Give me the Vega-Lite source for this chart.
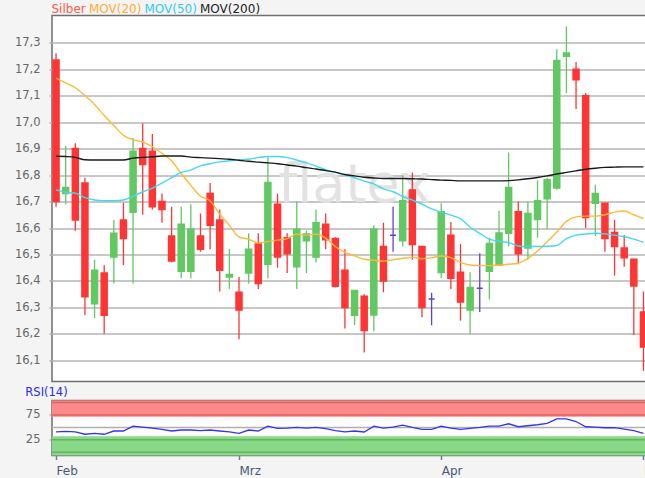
{
  "$schema": "https://vega.github.io/schema/vega-lite/v6.json",
  "background": "#f4f4f4",
  "padding": {"left": 13, "top": 2.5, "right": -15, "bottom": 0},
  "spacing": 3,
  "config": {
    "font": "DejaVu Sans",
    "view": {"fill": "white", "stroke": "#6e6e6e", "strokeWidth": 1.5},
    "axis": {"labelFont": "DejaVu Sans", "titleFont": "DejaVu Sans", "labelOverlap": false}
  },
  "datasets": {
    "prices": [
      {"date": "2018-02-01", "open": 17.235, "high": 17.26, "low": 16.68, "close": 16.70, "MOV(20)": 17.166, "MOV(50)": 16.744, "MOV(200)": 16.871, "rsi": 40.8},
      {"date": "2018-02-02", "open": 16.73, "high": 16.91, "low": 16.69, "close": 16.753, "MOV(20)": 17.148, "MOV(50)": 16.735, "MOV(200)": 16.87, "rsi": 42},
      {"date": "2018-02-05", "open": 16.90, "high": 16.92, "low": 16.59, "close": 16.63, "MOV(20)": 17.13, "MOV(50)": 16.732, "MOV(200)": 16.867, "rsi": 41},
      {"date": "2018-02-06", "open": 16.77, "high": 16.79, "low": 16.27, "close": 16.34, "MOV(20)": 17.10, "MOV(50)": 16.715, "MOV(200)": 16.858, "rsi": 36.2},
      {"date": "2018-02-07", "open": 16.314, "high": 16.48, "low": 16.26, "close": 16.44, "MOV(20)": 17.067, "MOV(50)": 16.706, "MOV(200)": 16.857, "rsi": 38.1},
      {"date": "2018-02-08", "open": 16.43, "high": 16.46, "low": 16.20, "close": 16.27, "MOV(20)": 17.025, "MOV(50)": 16.703, "MOV(200)": 16.857, "rsi": 36.2},
      {"date": "2018-02-09", "open": 16.49, "high": 16.63, "low": 16.39, "close": 16.58, "MOV(20)": 16.987, "MOV(50)": 16.703, "MOV(200)": 16.857, "rsi": 42.7},
      {"date": "2018-02-12", "open": 16.63, "high": 16.695, "low": 16.46, "close": 16.56, "MOV(20)": 16.95, "MOV(50)": 16.706, "MOV(200)": 16.857, "rsi": 42.7},
      {"date": "2018-02-13", "open": 16.66, "high": 16.94, "low": 16.39, "close": 16.89, "MOV(20)": 16.933, "MOV(50)": 16.72, "MOV(200)": 16.864, "rsi": 52.6},
      {"date": "2018-02-14", "open": 16.90, "high": 16.995, "low": 16.65, "close": 16.84, "MOV(20)": 16.925, "MOV(50)": 16.737, "MOV(200)": 16.867, "rsi": 50.6},
      {"date": "2018-02-15", "open": 16.89, "high": 16.955, "low": 16.67, "close": 16.68, "MOV(20)": 16.907, "MOV(50)": 16.751, "MOV(200)": 16.869, "rsi": 48.6},
      {"date": "2018-02-16", "open": 16.70, "high": 16.73, "low": 16.62, "close": 16.67, "MOV(20)": 16.882, "MOV(50)": 16.77, "MOV(200)": 16.872, "rsi": 46},
      {"date": "2018-02-20", "open": 16.57, "high": 16.68, "low": 16.47, "close": 16.475, "MOV(20)": 16.854, "MOV(50)": 16.79, "MOV(200)": 16.872, "rsi": 42.7},
      {"date": "2018-02-21", "open": 16.437, "high": 16.68, "low": 16.41, "close": 16.614, "MOV(20)": 16.806, "MOV(50)": 16.81, "MOV(200)": 16.872, "rsi": 44.7},
      {"date": "2018-02-22", "open": 16.437, "high": 16.69, "low": 16.41, "close": 16.595, "MOV(20)": 16.761, "MOV(50)": 16.819, "MOV(200)": 16.868, "rsi": 44.7},
      {"date": "2018-02-23", "open": 16.57, "high": 16.655, "low": 16.51, "close": 16.52, "MOV(20)": 16.72, "MOV(50)": 16.835, "MOV(200)": 16.866, "rsi": 43.4},
      {"date": "2018-02-26", "open": 16.73, "high": 16.77, "low": 16.52, "close": 16.61, "MOV(20)": 16.703, "MOV(50)": 16.843, "MOV(200)": 16.864, "rsi": 44.7},
      {"date": "2018-02-27", "open": 16.63, "high": 16.67, "low": 16.36, "close": 16.44, "MOV(20)": 16.652, "MOV(50)": 16.85, "MOV(200)": 16.862, "rsi": 42.7},
      {"date": "2018-02-28", "open": 16.415, "high": 16.52, "low": 16.37, "close": 16.424, "MOV(20)": 16.61, "MOV(50)": 16.854, "MOV(200)": 16.86, "rsi": 40.8},
      {"date": "2018-03-01", "open": 16.357, "high": 16.415, "low": 16.18, "close": 16.29, "MOV(20)": 16.566, "MOV(50)": 16.857, "MOV(200)": 16.856, "rsi": 38.1},
      {"date": "2018-03-02", "open": 16.43, "high": 16.58, "low": 16.39, "close": 16.52, "MOV(20)": 16.558, "MOV(50)": 16.86, "MOV(200)": 16.852, "rsi": 44.7},
      {"date": "2018-03-05", "open": 16.54, "high": 16.58, "low": 16.37, "close": 16.39, "MOV(20)": 16.543, "MOV(50)": 16.866, "MOV(200)": 16.849, "rsi": 42.7},
      {"date": "2018-03-06", "open": 16.463, "high": 16.867, "low": 16.41, "close": 16.772, "MOV(20)": 16.549, "MOV(50)": 16.87, "MOV(200)": 16.846, "rsi": 52.6},
      {"date": "2018-03-07", "open": 16.69, "high": 16.73, "low": 16.45, "close": 16.49, "MOV(20)": 16.554, "MOV(50)": 16.87, "MOV(200)": 16.843, "rsi": 48},
      {"date": "2018-03-08", "open": 16.563, "high": 16.58, "low": 16.43, "close": 16.503, "MOV(20)": 16.56, "MOV(50)": 16.866, "MOV(200)": 16.838, "rsi": 48.6},
      {"date": "2018-03-09", "open": 16.454, "high": 16.70, "low": 16.37, "close": 16.595, "MOV(20)": 16.577, "MOV(50)": 16.857, "MOV(200)": 16.834, "rsi": 50},
      {"date": "2018-03-12", "open": 16.552, "high": 16.59, "low": 16.43, "close": 16.577, "MOV(20)": 16.573, "MOV(50)": 16.846, "MOV(200)": 16.828, "rsi": 48.6},
      {"date": "2018-03-13", "open": 16.49, "high": 16.67, "low": 16.47, "close": 16.62, "MOV(20)": 16.577, "MOV(50)": 16.834, "MOV(200)": 16.823, "rsi": 50},
      {"date": "2018-03-14", "open": 16.614, "high": 16.655, "low": 16.52, "close": 16.556, "MOV(20)": 16.562, "MOV(50)": 16.82, "MOV(200)": 16.817, "rsi": 47.3},
      {"date": "2018-03-15", "open": 16.56, "high": 16.565, "low": 16.375, "close": 16.38, "MOV(20)": 16.53, "MOV(50)": 16.81, "MOV(200)": 16.811, "rsi": 43.4},
      {"date": "2018-03-16", "open": 16.44, "high": 16.52, "low": 16.22, "close": 16.30, "MOV(20)": 16.508, "MOV(50)": 16.80, "MOV(200)": 16.802, "rsi": 40.8},
      {"date": "2018-03-19", "open": 16.27, "high": 16.365, "low": 16.233, "close": 16.364, "MOV(20)": 16.495, "MOV(50)": 16.79, "MOV(200)": 16.797, "rsi": 42.7},
      {"date": "2018-03-20", "open": 16.342, "high": 16.35, "low": 16.13, "close": 16.213, "MOV(20)": 16.482, "MOV(50)": 16.777, "MOV(200)": 16.792, "rsi": 40.8},
      {"date": "2018-03-21", "open": 16.271, "high": 16.61, "low": 16.21, "close": 16.595, "MOV(20)": 16.478, "MOV(50)": 16.767, "MOV(200)": 16.789, "rsi": 52.6},
      {"date": "2018-03-22", "open": 16.53, "high": 16.62, "low": 16.357, "close": 16.40, "MOV(20)": 16.475, "MOV(50)": 16.748, "MOV(200)": 16.787, "rsi": 48.6},
      {"date": "2018-03-23", "open": 16.573, "high": 16.68, "low": 16.51, "close": 16.573, "MOV(20)": 16.48, "MOV(50)": 16.737, "MOV(200)": 16.787, "rsi": 50.6},
      {"date": "2018-03-26", "open": 16.552, "high": 16.80, "low": 16.53, "close": 16.703, "MOV(20)": 16.485, "MOV(50)": 16.72, "MOV(200)": 16.787, "rsi": 54.6},
      {"date": "2018-03-27", "open": 16.744, "high": 16.81, "low": 16.48, "close": 16.538, "MOV(20)": 16.489, "MOV(50)": 16.705, "MOV(200)": 16.786, "rsi": 50},
      {"date": "2018-03-28", "open": 16.53, "high": 16.53, "low": 16.263, "close": 16.30, "MOV(20)": 16.484, "MOV(50)": 16.69, "MOV(200)": 16.785, "rsi": 46},
      {"date": "2018-03-29", "open": 16.332, "high": 16.355, "low": 16.232, "close": 16.332, "MOV(20)": 16.487, "MOV(50)": 16.672, "MOV(200)": 16.783, "rsi": 46},
      {"date": "2018-04-02", "open": 16.432, "high": 16.694, "low": 16.41, "close": 16.661, "MOV(20)": 16.494, "MOV(50)": 16.66, "MOV(200)": 16.781, "rsi": 52.6},
      {"date": "2018-04-03", "open": 16.573, "high": 16.623, "low": 16.37, "close": 16.41, "MOV(20)": 16.488, "MOV(50)": 16.649, "MOV(200)": 16.78, "rsi": 48.6},
      {"date": "2018-04-04", "open": 16.433, "high": 16.54, "low": 16.25, "close": 16.32, "MOV(20)": 16.47, "MOV(50)": 16.635, "MOV(200)": 16.778, "rsi": 46},
      {"date": "2018-04-05", "open": 16.29, "high": 16.433, "low": 16.20, "close": 16.375, "MOV(20)": 16.46, "MOV(50)": 16.603, "MOV(200)": 16.778, "rsi": 48},
      {"date": "2018-04-06", "open": 16.372, "high": 16.505, "low": 16.283, "close": 16.372, "MOV(20)": 16.458, "MOV(50)": 16.58, "MOV(200)": 16.778, "rsi": 50},
      {"date": "2018-04-09", "open": 16.437, "high": 16.563, "low": 16.33, "close": 16.541, "MOV(20)": 16.458, "MOV(50)": 16.558, "MOV(200)": 16.778, "rsi": 52.6},
      {"date": "2018-04-10", "open": 16.459, "high": 16.665, "low": 16.457, "close": 16.581, "MOV(20)": 16.46, "MOV(50)": 16.55, "MOV(200)": 16.778, "rsi": 52.6},
      {"date": "2018-04-11", "open": 16.58, "high": 16.885, "low": 16.53, "close": 16.753, "MOV(20)": 16.463, "MOV(50)": 16.545, "MOV(200)": 16.779, "rsi": 57.2},
      {"date": "2018-04-12", "open": 16.661, "high": 16.70, "low": 16.463, "close": 16.503, "MOV(20)": 16.467, "MOV(50)": 16.532, "MOV(200)": 16.782, "rsi": 51.3},
      {"date": "2018-04-13", "open": 16.524, "high": 16.70, "low": 16.48, "close": 16.655, "MOV(20)": 16.485, "MOV(50)": 16.53, "MOV(200)": 16.786, "rsi": 53.3},
      {"date": "2018-04-16", "open": 16.632, "high": 16.78, "low": 16.563, "close": 16.703, "MOV(20)": 16.513, "MOV(50)": 16.53, "MOV(200)": 16.791, "rsi": 55.3},
      {"date": "2018-04-17", "open": 16.711, "high": 16.79, "low": 16.595, "close": 16.782, "MOV(20)": 16.548, "MOV(50)": 16.531, "MOV(200)": 16.797, "rsi": 57.9},
      {"date": "2018-04-18", "open": 16.751, "high": 17.275, "low": 16.745, "close": 17.233, "MOV(20)": 16.585, "MOV(50)": 16.534, "MOV(200)": 16.804, "rsi": 67.1},
      {"date": "2018-04-19", "open": 17.249, "high": 17.362, "low": 17.11, "close": 17.261, "MOV(20)": 16.625, "MOV(50)": 16.56, "MOV(200)": 16.81, "rsi": 67.1},
      {"date": "2018-04-20", "open": 17.20, "high": 17.227, "low": 17.05, "close": 17.16, "MOV(20)": 16.642, "MOV(50)": 16.573, "MOV(200)": 16.816, "rsi": 61.8},
      {"date": "2018-04-23", "open": 17.10, "high": 17.11, "low": 16.60, "close": 16.64, "MOV(20)": 16.645, "MOV(50)": 16.577, "MOV(200)": 16.822, "rsi": 51.3},
      {"date": "2018-04-24", "open": 16.694, "high": 16.763, "low": 16.57, "close": 16.73, "MOV(20)": 16.645, "MOV(50)": 16.58, "MOV(200)": 16.826, "rsi": 50.6},
      {"date": "2018-04-25", "open": 16.694, "high": 16.694, "low": 16.51, "close": 16.56, "MOV(20)": 16.65, "MOV(50)": 16.578, "MOV(200)": 16.829, "rsi": 49.3},
      {"date": "2018-04-26", "open": 16.583, "high": 16.63, "low": 16.42, "close": 16.53, "MOV(20)": 16.66, "MOV(50)": 16.573, "MOV(200)": 16.83, "rsi": 49.3},
      {"date": "2018-04-27", "open": 16.524, "high": 16.574, "low": 16.454, "close": 16.488, "MOV(20)": 16.664, "MOV(50)": 16.567, "MOV(200)": 16.831, "rsi": 46.7},
      {"date": "2018-04-30", "open": 16.482, "high": 16.482, "low": 16.196, "close": 16.381, "MOV(20)": 16.65, "MOV(50)": 16.558, "MOV(200)": 16.831, "rsi": 43.4},
      {"date": "2018-05-01", "open": 16.283, "high": 16.36, "low": 16.06, "close": 16.15, "MOV(20)": 16.636, "MOV(50)": 16.546, "MOV(200)": 16.831, "rsi": 38.1}
    ],
    "watermark": [
      {"date": "2018-03-19", "value": 16.70, "text": "flatex"}
    ],
    "zones": [
      {"zone": "überkauft", "from": 71.5, "to": 104},
      {"zone": "überverkauft", "from": -6.5, "to": 32}
    ],
    "levels": [
      {"level": 0}, {"level": 25}, {"level": 50}, {"level": 75}, {"level": 100}
    ]
  },
  "vconcat": [
    {
      "width": 595.5,
      "height": 366,
      "encoding": {
        "x": {"field": "date", "type": "ordinal", "scale": {"type": "point", "padding": 0.42}, "axis": null}
      },
      "layer": [
        {
          "data": {"name": "watermark"},
          "mark": {"type": "text", "fontSize": 54, "color": "#e2e2e2", "baseline": "alphabetic", "align": "center"},
          "encoding": {
            "y": {"field": "value", "type": "quantitative", "scale": {"domain": [16.02, 17.403], "nice": false, "zero": false},
              "axis": {"values": [16.1, 16.2, 16.3, 16.4, 16.5, 16.6, 16.7, 16.8, 16.9, 17.0, 17.1, 17.2, 17.3], "tickCount": 30,
                "labelExpr": "replace(format(datum.value, '.1f'), '.', ',')",
                "title": null, "domain": false, "tickSize": 3, "tickColor": "#b0b0b0", "tickWidth": 1.5,
                "labelPadding": 9, "labelColor": "#666666", "labelFontSize": 11.5, "labelOverlap": false,
                "grid": true, "gridColor": "#b4b4b4", "gridWidth": 1.5}},
            "text": {"field": "text"}
          }
        },
        {
          "data": {"name": "prices"},
          "mark": {"type": "rule", "strokeWidth": 1.3},
          "encoding": {
            "y": {"field": "low", "type": "quantitative"},
            "y2": {"field": "high"},
            "stroke": {"condition": [{"test": "datum.close > datum.open", "value": "#62c862"}, {"test": "datum.close < datum.open", "value": "#ff3535"}], "value": "#6040dd"}
          }
        },
        {
          "data": {"name": "prices"},
          "mark": {"type": "bar", "width": 6, "strokeWidth": 1.5},
          "encoding": {
            "y": {"field": "open", "type": "quantitative"},
            "y2": {"field": "close"},
            "fill": {"condition": [{"test": "datum.close > datum.open", "value": "#62c862"}, {"test": "datum.close < datum.open", "value": "#ff3535"}], "value": "#6040dd"},
            "stroke": {"condition": [{"test": "datum.close > datum.open", "value": "#62c862"}, {"test": "datum.close < datum.open", "value": "#ff3535"}], "value": "#6040dd"}
          }
        },
        {
          "data": {"name": "prices"},
          "transform": [{"fold": ["MOV(20)", "MOV(50)", "MOV(200)"], "as": ["series", "value"]}],
          "mark": {"type": "line", "strokeWidth": 1.4, "interpolate": "monotone"},
          "encoding": {
            "y": {"field": "value", "type": "quantitative"},
            "color": {"field": "series", "type": "nominal",
              "scale": {"domain": ["Silber", "MOV(20)", "MOV(50)", "MOV(200)"], "range": ["#ff4a3a", "#ffb838", "#44d8f0", "#1a1a1a"]},
              "legend": {"orient": "none", "legendX": -12.5, "legendY": -12.5, "direction": "horizontal", "title": null,
                "gridAlign": "none", "symbolSize": 0, "symbolStrokeWidth": 0, "labelOffset": 0, "columnPadding": -9.5,
                "labelFontSize": 12, "labelFont": "DejaVu Sans",
                "encoding": {"labels": {"fill": {"value": {"expr": "datum.value === 'Silber' ? '#ff5a4a' : datum.value === 'MOV(20)' ? '#ffad33' : datum.value === 'MOV(50)' ? '#33ccee' : '#222222'"}}}}}
            }
          }
        }
      ]
    },
    {
      "width": 595.5,
      "height": 55,
      "title": {"text": "RSI(14)", "anchor": "start", "color": "#2a2af0", "fontSize": 11.5, "fontWeight": "normal", "font": "DejaVu Sans", "offset": 2},
      "layer": [
        {
          "data": {"name": "zones"},
          "mark": {"type": "rect"},
          "encoding": {
            "y": {"field": "from", "type": "quantitative", "scale": {"domain": [-6.5, 104], "nice": false, "zero": false},
              "axis": {"values": [25, 75], "title": null, "domain": false, "grid": false, "tickSize": 3, "tickColor": "#999999",
                "labelPadding": 9, "labelColor": "#666666", "labelFontSize": 11.5}},
            "y2": {"field": "to"},
            "fill": {"condition": {"test": "datum.zone === 'überkauft'", "value": "#ff8888"}, "value": "#88d888"}
          }
        },
        {
          "data": {"name": "levels"},
          "mark": {"type": "rule", "strokeWidth": 1.5},
          "encoding": {
            "y": {"field": "level", "type": "quantitative"},
            "stroke": {"condition": [{"test": "datum.level >= 75", "value": "#dd6262"}, {"test": "datum.level <= 25", "value": "#5fb65f"}], "value": "#b0b0b0"}
          }
        },
        {
          "data": {"name": "prices"},
          "mark": {"type": "line", "color": "#3535f0", "strokeWidth": 1.3},
          "encoding": {
            "x": {"field": "date", "type": "ordinal", "scale": {"type": "point", "padding": 0.42},
              "axis": {"values": ["2018-02-01", "2018-03-01", "2018-04-02", "2018-05-01"],
                "labelExpr": "datum.value == '2018-02-01' ? 'Feb' : datum.value == '2018-03-01' ? 'Mrz' : datum.value == '2018-04-02' ? 'Apr' : 'Mai'",
                "labelAlign": "left", "labelDx": -1.5, "labelAngle": 0, "labelOverlap": false,
                "tickSize": 4, "tickColor": "#6a7ca0", "tickWidth": 1.5, "labelColor": "#4a5878", "labelFontSize": 12,
                "labelPadding": 6, "domain": false, "grid": false, "title": null}},
            "y": {"field": "rsi", "type": "quantitative"}
          }
        }
      ]
    }
  ]
}
